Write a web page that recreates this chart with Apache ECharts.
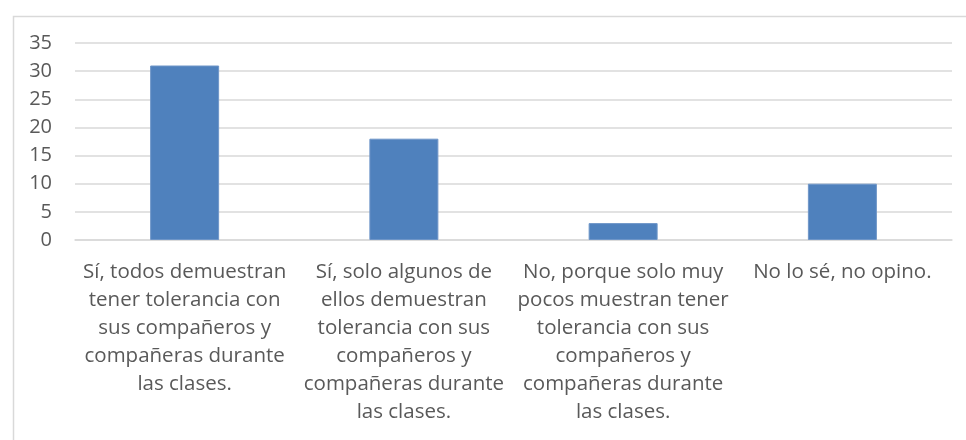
<!DOCTYPE html>
<html>
<head>
<meta charset="utf-8">
<script src="https://cdn.jsdelivr.net/npm/echarts@6/dist/echarts.min.js"></script>
<style>
  html, body { margin: 0; padding: 0; background: #fff; }
  #chart { width: 966px; height: 440px; }
</style>
</head>
<body>
<div id="chart"></div>
<script>
// categorías (saltos de línea como en el original)
const categories = [
  "Sí, todos demuestran\ntener tolerancia con\nsus compañeros y\ncompañeras durante\nlas clases.",
  "Sí, solo algunos de\nellos demuestran\ntolerancia con sus\ncompañeros y\ncompañeras durante\nlas clases.",
  "No, porque solo muy\npocos muestran tener\ntolerancia con sus\ncompañeros y\ncompañeras durante\nlas clases.",
  "No lo sé, no opino."
];
const values = [31, 18, 3, 10];
const yTicks = [0, 5, 10, 15, 20, 25, 30, 35];

const chart = echarts.init(document.getElementById("chart"));

const option = {
  animation: false,
  graphic: [
    {
      type: "rect",
      left: 11,
      top: 14,
      shape: { width: 1000, height: 1000 },
      style: { fill: "none", stroke: "#d9d9d9", lineWidth: 1.5 },
      silent: true
    }
  ],
  grid: {
    left: 75,
    right: 14,
    top: 43,
    bottom: 200
  },
  xAxis: {
    type: "category",
    data: categories,
    axisLine: { lineStyle: { color: "#d9d9d9", width: 1.5 } },
    axisTick: { show: false },
    axisLabel: {
      interval: 0,
      margin: 18,
      color: "#595959",
      fontFamily: "Open Sans",
      fontSize: 20.5,
      lineHeight: 28,
      align: "center"
    }
  },
  yAxis: {
    type: "value",
    min: yTicks[0],
    max: yTicks[yTicks.length - 1],
    interval: 5,
    axisLine: { show: false },
    axisTick: { show: false },
    axisLabel: {
      margin: 23,
      color: "#595959",
      fontFamily: "Open Sans",
      fontSize: 20
    },
    splitLine: {
      lineStyle: { color: "#d9d9d9", width: 1.5 }
    }
  },
  series: [
    {
      type: "bar",
      data: values,
      barWidth: 69,
      itemStyle: {
        color: "#4f81bd",
        borderColor: "#6f96c8",
        borderWidth: 1
      }
    }
  ]
};

chart.setOption(option);
</script>
</body>
</html>
